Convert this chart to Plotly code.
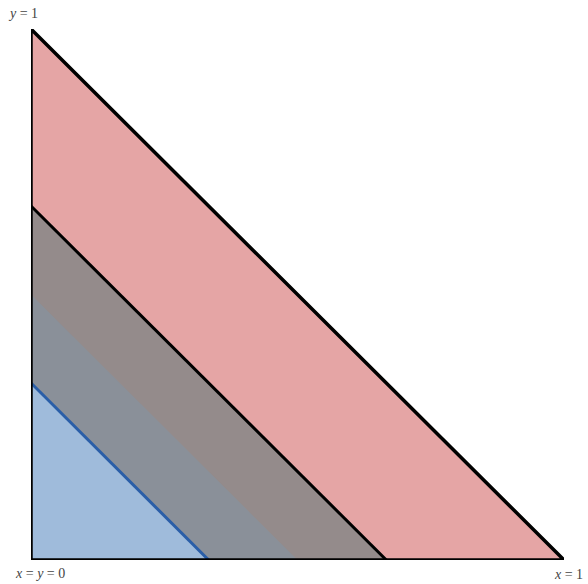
import plotly.graph_objects as go

# thresholds on x + y, from outer to inner
levels = [1.0, 2/3, 1/2, 1/3]
fills = ["#E5A5A5", "#948B8B", "#8A9099", "#9FBBDB"]
border_levels = [2/3, 1/3]
border_colors = ["#000000", "#2A5EA8"]

fig = go.Figure()
for t, c in zip(levels, fills):
    fig.add_trace(go.Scatter(x=[0, t, 0, 0], y=[0, 0, t, 0], mode="lines",
                             fill="toself", fillcolor=c, line=dict(width=0),
                             hoverinfo="skip", showlegend=False))
for t, c in zip(border_levels, border_colors):
    fig.add_trace(go.Scatter(x=[t, 0], y=[0, t], mode="lines",
                             line=dict(color=c, width=3), showlegend=False, hoverinfo="skip"))
fig.add_trace(go.Scatter(x=[0, 1, 0, 0], y=[0, 0, 1, 0], mode="lines",
                         line=dict(color="#000000", width=3.5), showlegend=False, hoverinfo="skip"))

font = dict(family="Liberation Serif, DejaVu Serif, serif", size=14, color="#444444")
fig.add_annotation(x=0, y=1, xref="x", yref="y", text="<i>y</i> = 1", showarrow=False,
                   xanchor="center", yanchor="bottom", yshift=6, xshift=-8, font=font)
fig.add_annotation(x=0, y=0, xref="x", yref="y", text="<i>x</i> = <i>y</i> = 0", showarrow=False,
                   xanchor="center", yanchor="top", yshift=-4, xshift=9, font=font)
fig.add_annotation(x=1, y=0, xref="x", yref="y", text="<i>x</i> = 1", showarrow=False,
                   xanchor="center", yanchor="top", yshift=-5, xshift=4, font=font)

fig.update_xaxes(range=[0, 1], visible=False, fixedrange=True)
fig.update_yaxes(range=[0, 1], visible=False, fixedrange=True)
fig.update_layout(width=588, height=584, margin=dict(l=31, r=24, t=29, b=24),
                  plot_bgcolor="white", paper_bgcolor="white")
fig.write_html("out.html", config={"displayModeBar": False},
               post_script="document.body.style.margin='0';document.body.style.overflow='hidden';")
